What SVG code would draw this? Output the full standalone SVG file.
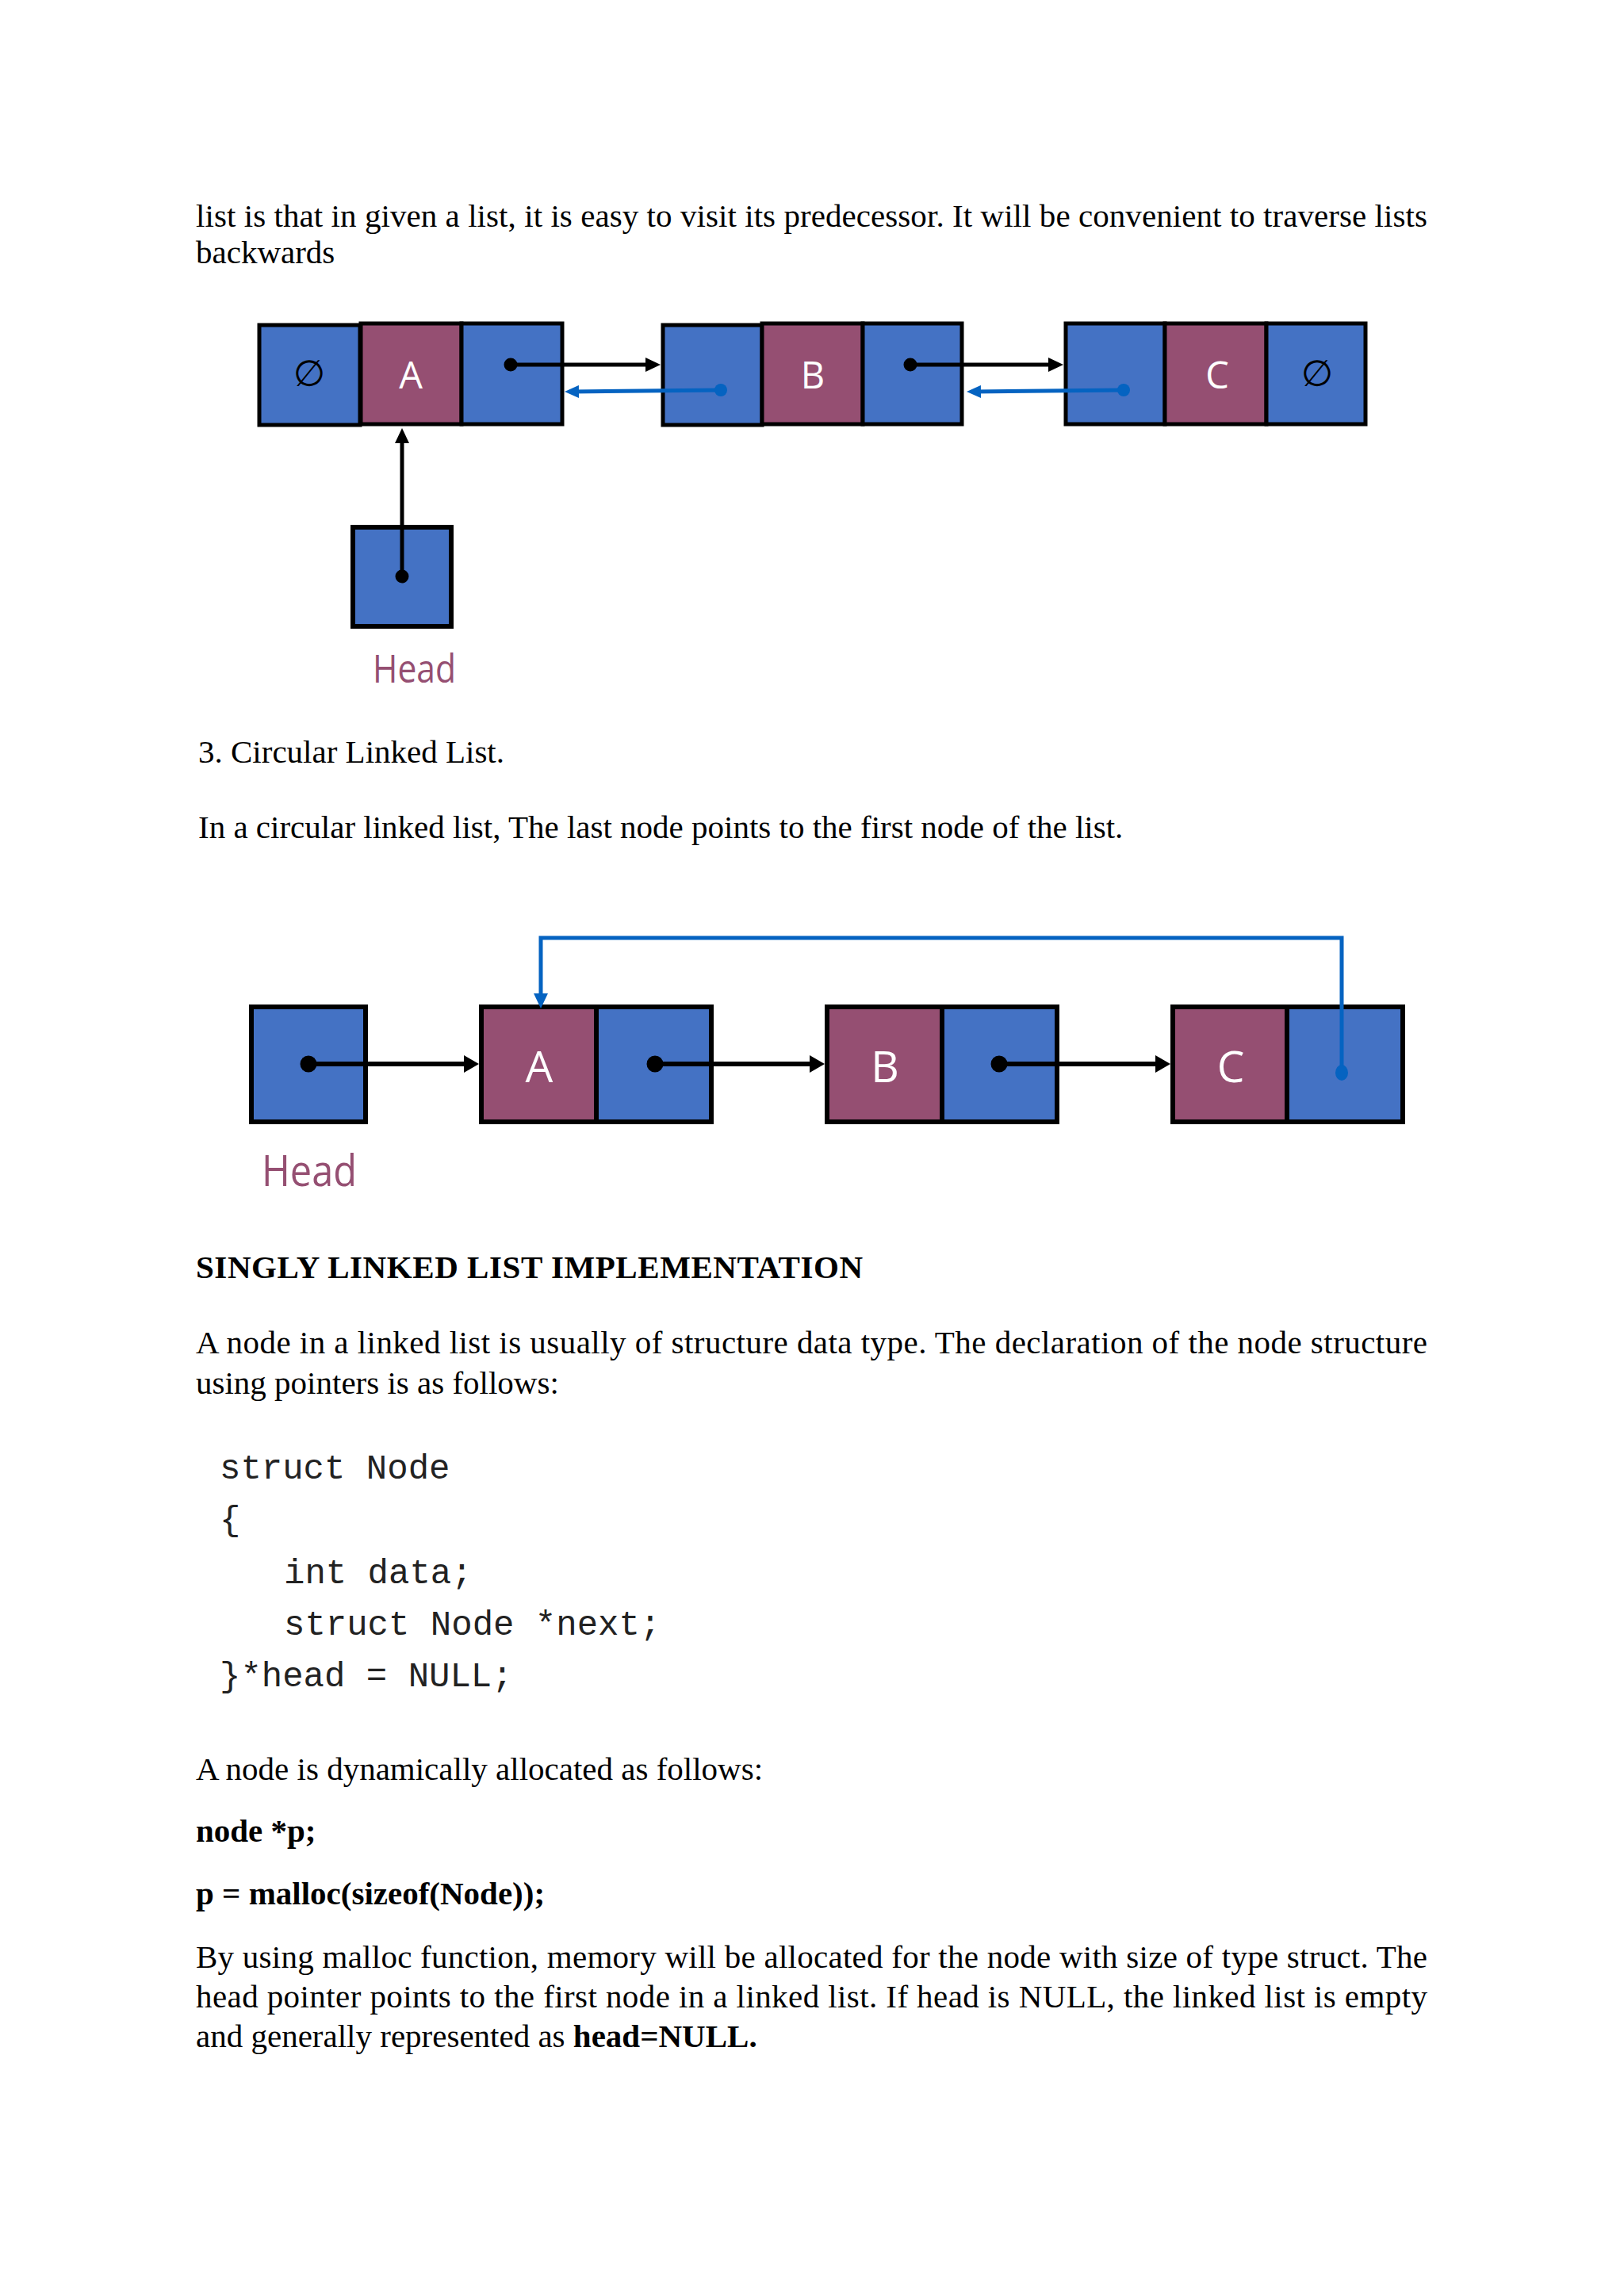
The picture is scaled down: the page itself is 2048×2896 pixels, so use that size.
<svg xmlns="http://www.w3.org/2000/svg" width="2048" height="2896" viewBox="0 0 2048 2896">
<style>
.body{font-family:"Liberation Serif","Times New Roman",serif;font-size:41px;fill:#000}
.bold{font-weight:bold}
.code{font-family:"Liberation Mono","Courier New",monospace;font-size:44px;fill:#222}
.blue{fill:#4472C4;stroke:#000}
.pur{fill:#954F72;stroke:#000}
.s1{stroke-width:5}
.s2{stroke-width:6}
.lbl{font-family:"Open Sans","Noto Sans",sans-serif;fill:#fff;text-anchor:middle}
.null{font-family:"DejaVu Sans",sans-serif;font-size:46px;fill:#000;text-anchor:middle}
.head{font-family:"Open Sans","Noto Sans",sans-serif;fill:#954F72}
.bl{stroke:#000;fill:none}
.bu{stroke:#0563C1;fill:none}
</style>
<defs>
<marker id="ahk" markerUnits="userSpaceOnUse" markerWidth="20" markerHeight="18" refX="9" refY="9" orient="auto">
<path d="M0,0 L19,9 L0,18 z" fill="#000"/>
</marker>
<marker id="ahk2" markerUnits="userSpaceOnUse" markerWidth="20" markerHeight="22" refX="9" refY="11" orient="auto">
<path d="M0,0 L19,11 L0,22 z" fill="#000"/>
</marker>
<marker id="ahb" markerUnits="userSpaceOnUse" markerWidth="19" markerHeight="16" refX="8" refY="8" orient="auto">
<path d="M0,0 L18,8 L0,16 z" fill="#0563C1"/>
</marker>
<marker id="ahb2" markerUnits="userSpaceOnUse" markerWidth="20" markerHeight="18" refX="9" refY="9" orient="auto">
<path d="M0,0 L19,9 L0,18 z" fill="#0563C1"/>
</marker>
</defs>
<rect width="2048" height="2896" fill="#fff"/>

<!-- top text -->
<text class="body" x="247" y="286" textLength="1553" lengthAdjust="spacing">list is that in given a list, it is easy to visit its predecessor. It will be convenient to traverse lists</text>
<text class="body" x="247" y="332">backwards</text>

<!-- Diagram 1: doubly linked list -->
<g id="d1-node-a">
<rect class="blue s1" x="327" y="410" width="127" height="126"/>
<rect class="pur s1" x="455" y="408" width="127" height="127"/>
<rect class="blue s1" x="582" y="408" width="127" height="127"/>
<text class="null" x="390" y="487">∅</text>
<text class="lbl" x="518" y="490" font-size="47">A</text>
</g>
<g id="d1-node-b">
<rect class="blue s1" x="836" y="410" width="125" height="126"/>
<rect class="pur s1" x="961" y="408" width="127" height="127"/>
<rect class="blue s1" x="1088" y="408" width="125" height="127"/>
<text class="lbl" x="1025" y="490" font-size="47">B</text>
</g>
<g id="d1-node-c">
<rect class="blue s1" x="1344" y="408" width="125" height="127"/>
<rect class="pur s1" x="1469" y="408" width="128" height="127"/>
<rect class="blue s1" x="1597" y="408" width="125" height="127"/>
<text class="lbl" x="1535" y="490" font-size="47">C</text>
<text class="null" x="1661" y="487">∅</text>
</g>
<g id="d1-head">
<rect class="blue s2" x="445" y="665" width="124" height="125"/>
<text class="head" x="470" y="861" font-size="49" textLength="105" lengthAdjust="spacingAndGlyphs">Head</text>
</g>
<g id="d1-connectors">
<line class="bl" x1="644" y1="460" x2="823" y2="460" stroke-width="5" marker-end="url(#ahk)"/>
<circle cx="644" cy="460" r="8.5" fill="#000"/>
<line class="bl" x1="1148" y1="460" x2="1331" y2="460" stroke-width="5" marker-end="url(#ahk)"/>
<circle cx="1148" cy="460" r="8.5" fill="#000"/>
<line class="bu" x1="909" y1="492" x2="722" y2="494" stroke-width="5" marker-end="url(#ahb)"/>
<circle cx="909" cy="492" r="8" fill="#0563C1"/>
<line class="bu" x1="1417" y1="492" x2="1229" y2="494" stroke-width="5" marker-end="url(#ahb)"/>
<circle cx="1417" cy="492" r="8" fill="#0563C1"/>
<line class="bl" x1="507" y1="727" x2="507" y2="550" stroke-width="5" marker-end="url(#ahk)"/>
<circle cx="507" cy="727" r="8.5" fill="#000"/>
</g>

<text class="body" x="250" y="962">3. Circular Linked List.</text>
<text class="body" x="250" y="1057">In a circular linked list, The last node points to the first node of the list.</text>

<!-- Diagram 2: circular linked list -->
<g id="d2-head">
<rect class="blue s2" x="317" y="1270" width="144" height="145"/>
<text class="head" x="330" y="1496" font-size="55" textLength="120" lengthAdjust="spacingAndGlyphs">Head</text>
</g>
<g id="d2-node-a">
<rect class="pur s2" x="607" y="1270" width="145" height="145"/>
<rect class="blue s2" x="752" y="1270" width="145" height="145"/>
<text class="lbl" x="680" y="1365" font-size="55">A</text>
</g>
<g id="d2-node-b">
<rect class="pur s2" x="1043" y="1270" width="145" height="145"/>
<rect class="blue s2" x="1188" y="1270" width="145" height="145"/>
<text class="lbl" x="1116" y="1365" font-size="55">B</text>
</g>
<g id="d2-node-c">
<rect class="pur s2" x="1479" y="1270" width="144" height="145"/>
<rect class="blue s2" x="1623" y="1270" width="146" height="145"/>
<text class="lbl" x="1552" y="1365" font-size="55">C</text>
</g>
<g id="d2-connectors">
<line class="bl" x1="389" y1="1342" x2="594" y2="1342" stroke-width="6" marker-end="url(#ahk2)"/>
<circle cx="389" cy="1342" r="10.5" fill="#000"/>
<line class="bl" x1="826" y1="1342" x2="1030" y2="1342" stroke-width="6" marker-end="url(#ahk2)"/>
<circle cx="826" cy="1342" r="10.5" fill="#000"/>
<line class="bl" x1="1260" y1="1342" x2="1466" y2="1342" stroke-width="6" marker-end="url(#ahk2)"/>
<circle cx="1260" cy="1342" r="10.5" fill="#000"/>
<path class="bu" d="M1692,1353 V1183 H682 V1262" stroke-width="5" marker-end="url(#ahb2)"/>
<ellipse cx="1692" cy="1353" rx="8" ry="10" fill="#0563C1"/>
</g>

<text class="body bold" x="247" y="1612" textLength="841" lengthAdjust="spacing">SINGLY LINKED LIST IMPLEMENTATION</text>
<text class="body" x="247" y="1707" textLength="1553" lengthAdjust="spacing">A node in a linked list is usually of structure data type. The declaration of the node structure</text>
<text class="body" x="247" y="1758">using pointers is as follows:</text>

<text class="code" x="277" y="1865" xml:space="preserve">struct Node</text>
<text class="code" x="277" y="1930">{</text>
<text class="code" x="358" y="1997" xml:space="preserve">int data;</text>
<text class="code" x="358" y="2062" xml:space="preserve">struct Node *next;</text>
<text class="code" x="277" y="2127" xml:space="preserve">}*head = NULL;</text>

<text class="body" x="247" y="2245">A node is dynamically allocated as follows:</text>
<text class="body bold" x="247" y="2323">node *p;</text>
<text class="body bold" x="247" y="2402">p = malloc(sizeof(Node));</text>
<text class="body" x="247" y="2482" textLength="1553" lengthAdjust="spacing">By using malloc function, memory will be allocated for the node with size of type struct. The</text>
<text class="body" x="247" y="2532" textLength="1553" lengthAdjust="spacing">head pointer points to the first node in a linked list. If head is NULL, the linked list is empty</text>
<text class="body" x="247" y="2582">and generally represented as <tspan class="bold">head=NULL.</tspan></text>
</svg>
